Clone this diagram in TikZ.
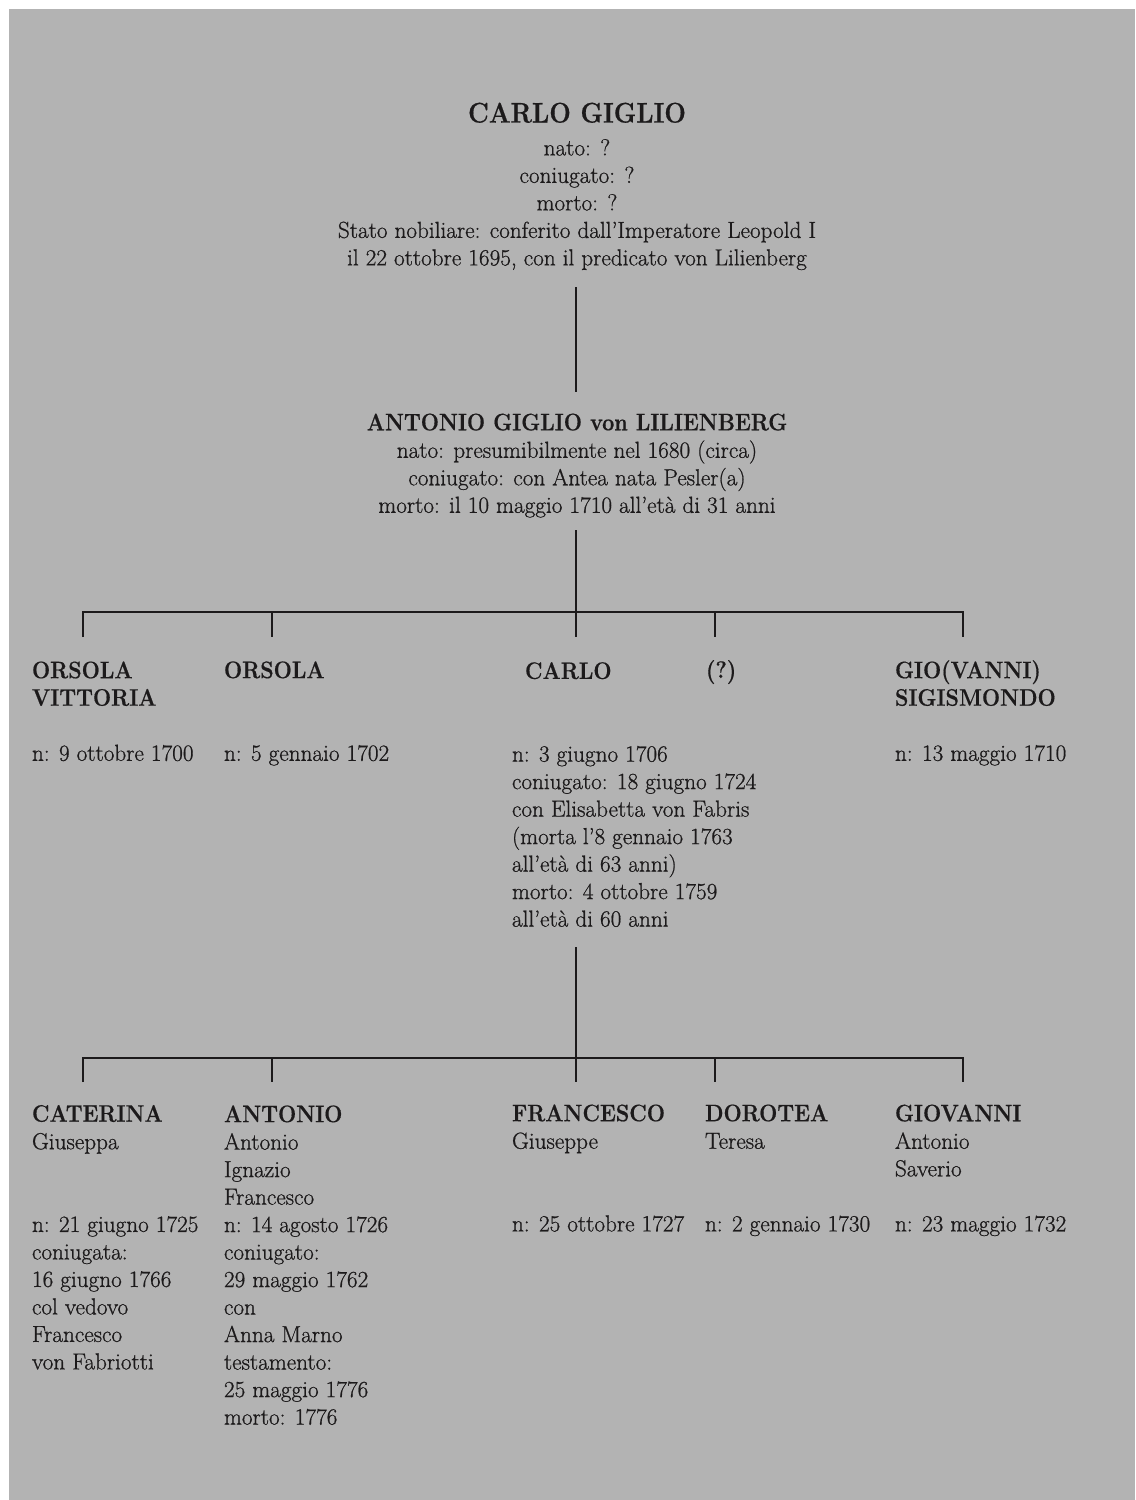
\documentclass[tikz,border=0pt]{standalone}
\usepackage{fontspec}
\setmainfont{Latin Modern Roman}[UprightFeatures={FakeBold=0.8},
  BoldFeatures={FakeBold=0.5,FakeStretch=0.9}]
\definecolor{bg}{RGB}{179,179,179}
\definecolor{ink}{RGB}{28,26,27}
\newcommand{\nm}{\bfseries\fontsize{24}{27.6}\selectfont}
\newcommand{\bignm}{\bfseries\fontsize{28.5}{27.6}\selectfont}
\begin{document}
\begin{tikzpicture}[x=1bp,y=-1bp,
  txt/.style={inner sep=0pt, outer sep=0pt, text=ink,
    font=\fontsize{23.3}{27.6}\selectfont, align=left, anchor=base west},
  ctr/.style={txt, align=center, anchor=base},
  conn/.style={draw=ink, line width=2.6bp, line join=miter},
]
\useasboundingbox (0,0) rectangle (1135,1500);
\fill[white] (0,0) rectangle (1135,1500);
\fill[bg] (9,9) rectangle (1135,1500);

% generation 1 (anchors sit on the last baseline)
\node[ctr] (p0) at (577,265.4) {{\bignm CARLO GIGLIO}\\[5.4bp]
  nato: ?\\coniugato: ?\\morto: ?\\
  Stato nobiliare: conferito dall’Imperatore Leopold I\\
  il 22 ottobre 1695, con il predicato von Lilienberg};

% generation 2
\node[ctr] (p1) at (577,512.8) {{\nm ANTONIO GIGLIO von LILIENBERG}\\
  nato: presumibilmente nel 1680 (circa)\\
  coniugato: con Antea nata Pesler(a)\\
  morto: il 10 maggio 1710 all’età di 31 anni};

% generation 3
\node[txt] (g1) at (32,760.8) {{\nm ORSOLA}\\{\nm VITTORIA}\\[27.6bp]
  n: 9 ottobre 1700};
\node[txt] (g2) at (224,760.8) {{\nm ORSOLA}\\[55.2bp]
  n: 5 gennaio 1702};
\node[txt] (g3) at (512,926.6) {\kern13bp{\nm CARLO}\\[55.2bp]
  n: 3 giugno 1706\\coniugato: 18 giugno 1724\\con Elisabetta von Fabris\\
  (morta l’8 gennaio 1763\\all’età di 63 anni)\\morto: 4 ottobre 1759\\
  all’età di 60 anni};
\node[txt] (g4) at (706,678) {{\nm (?)}};
\node[txt] (g5) at (895,760.8) {{\nm GIO(VANNI)}\\{\nm SIGISMONDO}\\[27.6bp]
  n: 13 maggio 1710};

% generation 4
\node[txt] (h1) at (32,1369.4) {{\nm CATERINA}\\Giuseppa\\[55.2bp]
  n: 21 giugno 1725\\coniugata:\\16 giugno 1766\\col vedovo\\Francesco\\
  von Fabriotti};
\node[txt] (h2) at (224,1424.6) {{\nm ANTONIO}\\Antonio\\Ignazio\\Francesco\\
  n: 14 agosto 1726\\coniugato:\\29 maggio 1762\\con\\Anna Marno\\
  testamento:\\25 maggio 1776\\morto: 1776};
\node[txt] (h3) at (512,1231.4) {{\nm FRANCESCO}\\Giuseppe\\[55.2bp]
  n: 25 ottobre 1727};
\node[txt] (h4) at (705,1231.4) {{\nm DOROTEA}\\Teresa\\[55.2bp]
  n: 2 gennaio 1730};
\node[txt] (h5) at (895,1231.4) {{\nm GIOVANNI}\\Antonio\\Saverio\\[27.6bp]
  n: 23 maggio 1732};

% connector skeleton
\coordinate (a0) at (576,287);
\coordinate (a1) at (576,392);
\coordinate (b0) at (576,530);
\coordinate (c1) at (83,612);
\coordinate (c2) at (272,612);
\coordinate (c3) at (576,612);
\coordinate (c4) at (715,612);
\coordinate (c5) at (963,612);
\coordinate (d1) at (83,637);
\coordinate (d2) at (272,637);
\coordinate (d3) at (576,637);
\coordinate (d4) at (715,637);
\coordinate (d5) at (963,637);

\coordinate (e0) at (576,947);
\coordinate (f1) at (83,1058);
\coordinate (f2) at (272,1058);
\coordinate (f3) at (576,1058);
\coordinate (f4) at (715,1058);
\coordinate (f5) at (963,1058);
\coordinate (k1) at (83,1082);
\coordinate (k2) at (272,1082);
\coordinate (k3) at (576,1082);
\coordinate (k4) at (715,1082);
\coordinate (k5) at (963,1082);

\draw[conn] (a0) -- (a1);
\draw[conn] (b0) -- (d3);
\draw[conn] (d1) -- (c1) -- (c5) -- (d5);
\draw[conn] (c2) -- (d2);
\draw[conn] (c4) -- (d4);

\draw[conn] (e0) -- (k3);
\draw[conn] (k1) -- (f1) -- (f5) -- (k5);
\draw[conn] (f2) -- (k2);
\draw[conn] (f4) -- (k4);
\end{tikzpicture}
\end{document}
